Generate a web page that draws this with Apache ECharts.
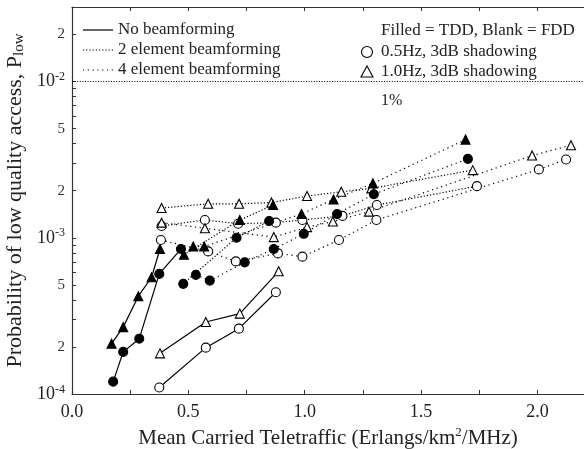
<!DOCTYPE html>
<html><head><meta charset="utf-8">
<script src="https://cdn.jsdelivr.net/npm/echarts@6/dist/echarts.min.js"></script>
<style>html,body{margin:0;padding:0;background:#fff}#c{width:584px;height:449px}</style>
</head><body><div id="c"></div>
<script>
// ---- axis ticks / labels ----
const xLabelValues = [0, 0.5, 1.0, 1.5, 2.0];
const xTickValues = [0.25, 0.5, 0.75, 1.0, 1.25, 1.5, 1.75, 2.0];
const yLabelValues = [1e-4, 2e-4, 5e-4, 1e-3, 2e-3, 5e-3, 1e-2, 2e-2];
const yTickValues = [2e-4,3e-4,4e-4,5e-4,6e-4,7e-4,8e-4,9e-4,1e-3,2e-3,3e-3,4e-3,5e-3,6e-3,7e-3,8e-3,9e-3,1e-2,2e-2,3e-2];
const thresholdValue = 0.01;

// ---- No beamforming (solid) ----
const nbTddTriX = [0.170, 0.220, 0.285, 0.342, 0.378];
const nbTddTriY = [2.10e-4, 2.68e-4, 4.23e-4, 5.59e-4, 8.47e-4];
const nbTddCirX = [0.177, 0.220, 0.289, 0.375, 0.468];
const nbTddCirY = [1.20e-4, 1.86e-4, 2.26e-4, 5.87e-4, 8.47e-4];
const nbFddTriX = [0.378, 0.575, 0.721, 0.888];
const nbFddTriY = [1.82e-4, 2.89e-4, 3.27e-4, 6.10e-4];
const nbFddCirX = [0.375, 0.575, 0.717, 0.876];
const nbFddCirY = [1.10e-4, 1.98e-4, 2.62e-4, 4.48e-4];

// ---- 2 element beamforming ----
const b2FddTriX = [0.385, 0.585, 0.718, 0.857, 1.010, 1.157, 1.286, 1.722];
const b2FddTriY = [1.55e-3, 1.65e-3, 1.65e-3, 1.68e-3, 1.85e-3, 1.97e-3, 2.07e-3, 2.71e-3];
const b2FddCirX = [0.385, 0.571, 0.714, 0.876, 0.990, 1.162, 1.310, 1.740];
const b2FddCirY = [1.19e-3, 1.30e-3, 1.23e-3, 1.25e-3, 1.30e-3, 1.38e-3, 1.62e-3, 2.14e-3];
const b2TddTriX = [0.481, 0.721, 0.864];
const b2TddTriY = [7.79e-4, 1.30e-3, 1.62e-3];
const b2TddCirX = [0.478, 0.707, 0.847];
const b2TddCirY = [5.07e-4, 1.00e-3, 1.28e-3];

// ---- 4 element beamforming ----
const b4FddTriX = [0.385, 0.571, 0.867, 1.010, 1.121, 1.276, 1.977, 2.144];
const b4FddTriY = [1.25e-3, 1.15e-3, 1.01e-3, 1.17e-3, 1.27e-3, 1.47e-3, 3.36e-3, 3.91e-3];
const b4FddCirX = [0.382, 0.585, 0.704, 0.885, 0.990, 1.147, 1.308, 2.006, 2.123];
const b4FddCirY = [9.67e-4, 8.18e-4, 7.06e-4, 7.94e-4, 7.57e-4, 9.67e-4, 1.30e-3, 2.74e-3, 3.17e-3];
const b4TddTriX = [0.521, 0.568, 0.986, 1.124, 1.293, 1.691];
const b4TddTriY = [8.80e-4, 8.80e-4, 1.42e-3, 1.76e-3, 2.23e-3, 4.25e-3];
const b4TddCirX = [0.532, 0.592, 0.742, 0.867, 0.996, 1.139, 1.297, 1.701];
const b4TddCirY = [5.79e-4, 5.32e-4, 6.96e-4, 8.47e-4, 1.06e-3, 1.42e-3, 1.90e-3, 3.20e-3];

const FONT = '"Liberation Serif", "DejaVu Serif", serif';
const SOLID = 'solid', DOT2 = [1.2, 2.0], DOT4 = [1.2, 3.6];

function zip(xs, ys) { return xs.map((x, i) => [x, ys[i]]); }
function mk(name, xs, ys, filled, shape, dash) {
  return {
    name, type: 'line', data: zip(xs, ys),
    symbol: shape, symbolSize: 9,
    showSymbol: true, silent: true, animation: false, z: 3,
    lineStyle: { color: '#000', width: 1.2, type: dash },
    itemStyle: { color: filled ? '#000' : '#fff', borderColor: '#000', borderWidth: 1.1 }
  };
}

const series = [
  mk('nbTddTri', nbTddTriX, nbTddTriY, true, 'triangle', SOLID),
  mk('nbTddCir', nbTddCirX, nbTddCirY, true, 'circle', SOLID),
  mk('nbFddTri', nbFddTriX, nbFddTriY, false, 'triangle', SOLID),
  mk('nbFddCir', nbFddCirX, nbFddCirY, false, 'circle', SOLID),
  mk('b2FddTri', b2FddTriX, b2FddTriY, false, 'triangle', DOT2),
  mk('b2FddCir', b2FddCirX, b2FddCirY, false, 'circle', DOT2),
  mk('b4FddTri', b4FddTriX, b4FddTriY, false, 'triangle', DOT4),
  mk('b4FddCir', b4FddCirX, b4FddCirY, false, 'circle', DOT4),
  mk('b2TddTri', b2TddTriX, b2TddTriY, true, 'triangle', DOT2),
  mk('b2TddCir', b2TddCirX, b2TddCirY, true, 'circle', DOT2),
  mk('b4TddTri', b4TddTriX, b4TddTriY, true, 'triangle', DOT4),
  mk('b4TddCir', b4TddCirX, b4TddCirY, true, 'circle', DOT4)
];
series[0].markLine = {
  silent: true, symbol: 'none', animation: false,
  lineStyle: { color: '#000', type: [1, 1.6], width: 1 },
  label: { show: false },
  data: [{ yAxis: thresholdValue }]
};

function yFmt(v) {
  const e = Math.floor(Math.log10(v) + 1e-9);
  const m = v / Math.pow(10, e);
  if (Math.abs(m - 1) < 1e-6) return '{b|10}{s|' + e + '}';
  return '{m|' + Math.round(m) + '}';
}

const chart = echarts.init(document.getElementById('c'), null, { renderer: 'canvas' });
chart.setOption({
  animation: false,
  backgroundColor: '#fff',
  textStyle: { fontFamily: FONT, color: '#000' },
  grid: { left: 72, top: 7, right: 0, bottom: 55, containLabel: false, outerBoundsMode: 'none' },
  xAxis: [{
    type: 'value', min: 0, max: 2.2, position: 'bottom',
    name: 'Mean Carried Teletraffic (Erlangs/km{sup|2}/MHz)',
    nameLocation: 'middle', nameGap: 31,
    nameTextStyle: { fontFamily: FONT, fontSize: 21, color: '#222',
      rich: { sup: { fontFamily: FONT, fontSize: 13, color: '#222', verticalAlign: 'top', padding: [0, 0, 12, 0] } } },
    axisLine: { lineStyle: { color: '#333', width: 1.2 } },
    axisTick: { inside: true, length: 4, customValues: xTickValues, lineStyle: { color: '#333' } },
    axisLabel: { customValues: xLabelValues, formatter: v => v.toFixed(1), fontFamily: FONT, fontSize: 18, color: '#222', margin: 9 },
    splitLine: { show: false }
  }, {
    type: 'value', min: 0, max: 2.2, position: 'top',
    axisLine: { lineStyle: { color: '#333', width: 1.2 } },
    axisTick: { inside: true, length: 4, customValues: xTickValues, lineStyle: { color: '#333' } },
    axisLabel: { show: false }, splitLine: { show: false }
  }],
  yAxis: [{
    type: 'log', logBase: 10, min: 1e-4, max: 0.03,
    name: 'Probability of low quality access, P{sub|low}',
    nameLocation: 'middle', nameGap: 25, nameRotate: 90,
    nameTextStyle: { fontFamily: FONT, fontSize: 22, color: '#222',
      rich: { sub: { fontFamily: FONT, fontSize: 15, color: '#222', verticalAlign: 'bottom', padding: [6, 0, 0, 0] } } },
    axisLine: { lineStyle: { color: '#333', width: 1.2 } },
    axisTick: { inside: true, length: 4, customValues: yTickValues, lineStyle: { color: '#333' } },
    axisLabel: { customValues: yLabelValues, formatter: yFmt, margin: 7, color: '#222',
      rich: {
        b: { fontFamily: FONT, fontSize: 18, color: '#222' },
        s: { fontFamily: FONT, fontSize: 12, color: '#222', verticalAlign: 'top', padding: [0, 0, 9, 0] },
        m: { fontFamily: FONT, fontSize: 15, color: '#333' }
      } },
    splitLine: { show: false }
  }],
  series,
  graphic: [
    { type: 'line', shape: { x1: 83, y1: 30, x2: 113, y2: 30 }, style: { stroke: '#000', lineWidth: 1.2 } },
    { type: 'line', shape: { x1: 83, y1: 50, x2: 113, y2: 50 }, style: { stroke: '#000', lineWidth: 1.2, lineDash: DOT2 } },
    { type: 'line', shape: { x1: 83, y1: 70, x2: 113, y2: 70 }, style: { stroke: '#000', lineWidth: 1.2, lineDash: DOT4 } },
    { type: 'text', x: 118, y: 30, style: { text: 'No beamforming', font: '17px ' + FONT, fill: '#222', verticalAlign: 'middle' } },
    { type: 'text', x: 118, y: 50, style: { text: '2 element beamforming', font: '17px ' + FONT, fill: '#222', verticalAlign: 'middle' } },
    { type: 'text', x: 118, y: 70, style: { text: '4 element beamforming', font: '17px ' + FONT, fill: '#222', verticalAlign: 'middle' } },
    { type: 'text', x: 381, y: 31, style: { text: 'Filled = TDD, Blank = FDD', font: '17px ' + FONT, fill: '#222', verticalAlign: 'middle' } },
    { type: 'circle', shape: { cx: 367, cy: 52, r: 5.5 }, style: { fill: '#fff', stroke: '#000', lineWidth: 1.1 } },
    { type: 'polygon', shape: { points: [[367, 66], [373, 77], [361, 77]] }, style: { fill: '#fff', stroke: '#000', lineWidth: 1.1 } },
    { type: 'text', x: 381, y: 52, style: { text: '0.5Hz, 3dB shadowing', font: '17px ' + FONT, fill: '#222', verticalAlign: 'middle' } },
    { type: 'text', x: 381, y: 72, style: { text: '1.0Hz, 3dB shadowing', font: '17px ' + FONT, fill: '#222', verticalAlign: 'middle' } },
    { type: 'text', x: 381, y: 101, style: { text: '1%', font: '16px ' + FONT, fill: '#222', verticalAlign: 'middle' } }
  ]
});
</script></body></html>
